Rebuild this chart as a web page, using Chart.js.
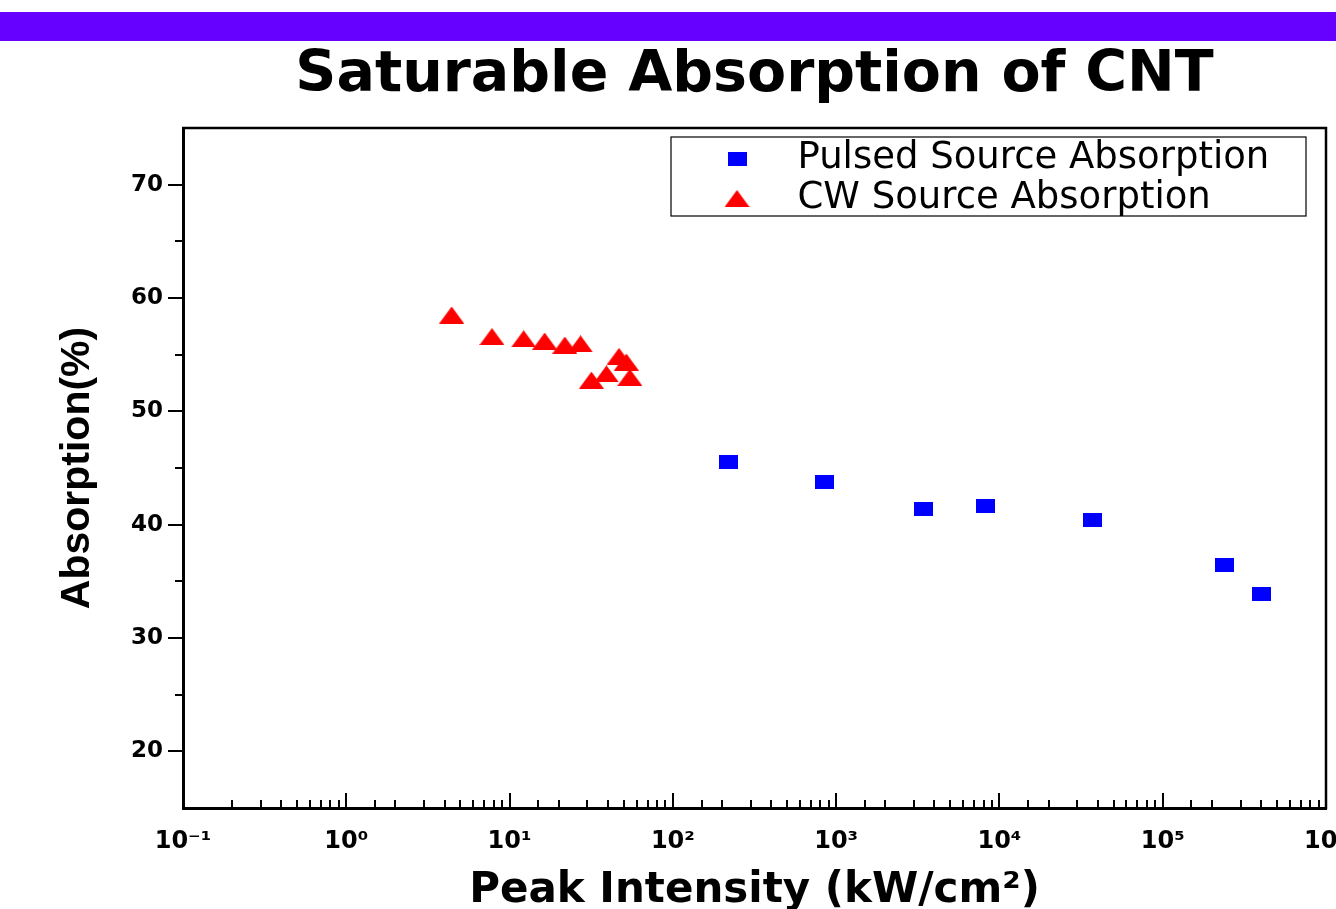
<!DOCTYPE html>
<html>
<head>
<meta charset="utf-8">
<title>Saturable Absorption of CNT</title>
<script src="https://cdn.jsdelivr.net/npm/chart.js@4.4.0/dist/chart.umd.min.js"></script>
<style>
  html, body { margin: 0; padding: 0; background: #fff; overflow: hidden; }
  #wrap { width: 1336px; height: 909px; }
</style>
</head>
<body>
<div id="wrap"><canvas id="chart" width="1336" height="909"></canvas></div>
<script>
// values (x in kW/cm2, y in %)
const pulsedIntensity = [219, 853, 3410, 8220, 37200, 238000, 400000];
const pulsedAbsorption = [45.5, 43.8, 41.35, 41.65, 40.45, 36.45, 33.9];
const cwIntensity = [4.42, 7.8, 12.2, 16.4, 21.8, 27.2, 46.8, 51.9, 39.2, 31.7, 54.5];
const cwAbsorption = [58.5, 56.6, 56.4, 56.2, 55.85, 55.95, 54.85, 54.35, 53.3, 52.75, 53.0];
const xTickPowers = [-1, 0, 1, 2, 3, 4, 5, 6];
const yTickLabels = [20, 30, 40, 50, 60, 70];

const SUP = {'-': '\u207B', '0': '\u2070', '1': '\u00B9', '2': '\u00B2', '3': '\u00B3',
             '4': '\u2074', '5': '\u2075', '6': '\u2076', '7': '\u2077', '8': '\u2078', '9': '\u2079'};

function powerOf(v) {
    const e = Math.log10(v);
    const r = Math.round(e);
    return Math.abs(e - r) < 1e-6 ? r : null;
}

// marker images (the source picture is a bit wider than tall)
function makeSquare() {
    const c = document.createElement('canvas');
    c.width = 19; c.height = 14;
    const g = c.getContext('2d');
    g.fillStyle = '#0000ff';
    g.fillRect(0, 0, 19, 14);
    return c;
}
function makeTriangle() {
    const c = document.createElement('canvas');
    c.width = 25; c.height = 17;
    const g = c.getContext('2d');
    g.fillStyle = '#ff0000';
    g.beginPath();
    g.moveTo(12.5, 0);
    g.lineTo(25, 17);
    g.lineTo(0, 17);
    g.closePath();
    g.fill();
    return c;
}

const framePlugin = {
    id: 'frame',
    beforeDraw(chart) {
        const ctx = chart.ctx;
        ctx.save();
        ctx.fillStyle = '#6600ff';
        ctx.fillRect(0, 12, chart.width, 29);
        ctx.restore();
    },
    afterLayout(chart) {
        // legend sits inside the plot, upper right
        const lg = chart.legend;
        const a = chart.chartArea;
        lg.left = a.left + 509;
        lg.top = a.top + 9;
    },
    afterDraw(chart) {
        const ctx = chart.ctx;
        const a = chart.chartArea;
        const xs = chart.scales.x, ys = chart.scales.y;
        ctx.save();
        ctx.strokeStyle = '#000';
        ctx.lineWidth = 2;
        ctx.beginPath();
        xs.ticks.forEach(t => {
            const px = Math.round(xs.getPixelForValue(t.value));
            if (px <= a.left + 2 || px >= a.right - 2) return;
            const len = powerOf(t.value) !== null ? 15 : 8;
            ctx.moveTo(px, a.bottom);
            ctx.lineTo(px, a.bottom - len);
        });
        ys.ticks.forEach(t => {
            const py = Math.round(ys.getPixelForValue(t.value));
            if (py <= a.top + 2 || py >= a.bottom - 2) return;
            const len = t.value % 10 === 0 ? 15 : 8;
            ctx.moveTo(a.left, py);
            ctx.lineTo(a.left - len, py);
        });
        ctx.stroke();

        // top and right edges of the frame
        ctx.lineWidth = 2.5;
        ctx.beginPath();
        ctx.moveTo(a.left - 1, a.top);
        ctx.lineTo(a.right, a.top);
        ctx.lineTo(a.right, a.bottom + 1);
        ctx.stroke();

        // legend box
        const lg = chart.legend;
        ctx.lineWidth = 1.2;
        ctx.strokeRect(lg.left - 21, lg.top, 635, 79);
        ctx.restore();
    }
};

Chart.defaults.color = '#000';
Chart.defaults.font.family = "'DejaVu Sans'";

new Chart(document.getElementById('chart'), {
    type: 'scatter',
    data: {
        datasets: [
            {
                label: 'Pulsed Source Absorption',
                data: pulsedIntensity.map((x, i) => ({x: x, y: pulsedAbsorption[i]})),
                pointStyle: makeSquare(),
                backgroundColor: '#0000ff',
                borderColor: '#0000ff'
            },
            {
                label: 'CW Source Absorption',
                data: cwIntensity.map((x, i) => ({x: x, y: cwAbsorption[i]})),
                pointStyle: makeTriangle(),
                backgroundColor: '#ff0000',
                borderColor: '#ff0000'
            }
        ]
    },
    options: {
        responsive: false,
        animation: false,
        events: [],
        layout: { padding: { left: 0, right: 10, top: 0, bottom: 0 } },
        scales: {
            x: {
                type: 'logarithmic',
                position: 'bottom',
                min: 0.1,
                max: 1e6,
                grid: { display: false, drawTicks: false },
                border: { display: true, color: '#000', width: 3 },
                ticks: {
                    autoSkip: false,
                    maxRotation: 0,
                    padding: 19,
                    font: { size: 24, weight: 'bold' },
                    callback: function(value) {
                        const p = powerOf(value);
                        if (p === null || !xTickPowers.includes(p)) return '';
                        return '10' + String(p).split('').map(ch => SUP[ch]).join('');
                    }
                },
                title: {
                    display: true,
                    text: 'Peak Intensity (kW/cm\u00B2)',
                    font: { size: 42, weight: 'bold', lineHeight: 0.8 },
                    padding: { top: 0, bottom: 1 }
                },
                afterFit: function(scale) {
                    scale.height = 101;
                    scale.paddingLeft = 0;
                    scale.paddingRight = 0;
                }
            },
            y: {
                min: 15,
                max: 75,
                grid: { display: false, drawTicks: false },
                border: { display: true, color: '#000', width: 3 },
                ticks: {
                    stepSize: 5,
                    padding: 20,
                    font: { size: 23, weight: 'bold' },
                    callback: function(value) {
                        return yTickLabels.includes(value) ? String(value) : '';
                    }
                },
                title: {
                    display: true,
                    text: 'Absorption(%)',
                    font: { family: "'Liberation Sans'", size: 41, weight: 'bold', lineHeight: 1 },
                    padding: { top: 57, bottom: 0 }
                },
                afterFit: function(scale) {
                    scale.width = 183;
                    scale.paddingTop = 0;
                    scale.paddingBottom = 0;
                }
            }
        },
        plugins: {
            title: {
                display: true,
                fullSize: false,
                text: 'Saturable Absorption of CNT',
                font: { size: 57, weight: 'bold', lineHeight: 1 },
                padding: { top: 48, bottom: 23 }
            },
            legend: {
                display: true,
                position: 'chartArea',
                align: 'start',
                labels: {
                    usePointStyle: true,
                    pointStyleWidth: 84,
                    padding: 3,
                    font: { size: 37 }
                }
            },
            tooltip: { enabled: false }
        }
    },
    plugins: [framePlugin]
});
</script>
</body>
</html>
